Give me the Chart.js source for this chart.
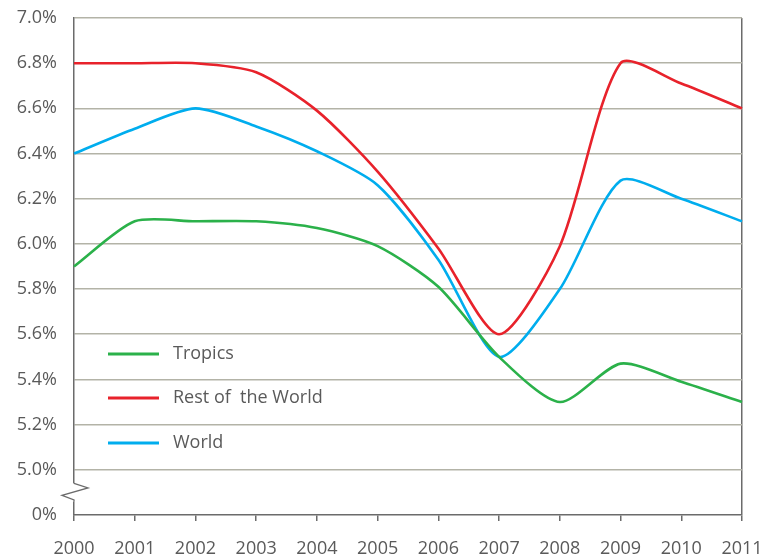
<!DOCTYPE html>
<html>
<head>
<meta charset="utf-8">
<script src="https://cdn.jsdelivr.net/npm/chart.js@4"></script>
<style>
    html, body { margin: 0; padding: 0; background: #fff; }
    #wrap { width: 763px; height: 554px; position: relative; }
</style>
</head>
<body>
<div id="wrap"><canvas id="rateChart"></canvas></div>
<script>
const years = ['2000', '2001', '2002', '2003', '2004', '2005', '2006', '2007', '2008', '2009', '2010', '2011'];
const tropics = [5.9, 6.1, 6.1, 6.1, 6.07, 5.99, 5.81, 5.5, 5.3, 5.47, 5.39, 5.3];
const restOfWorld = [6.8, 6.8, 6.8, 6.76, 6.59, 6.32, 5.98, 5.6, 5.99, 6.8, 6.71, 6.6];
const world = [6.4, 6.51, 6.6, 6.52, 6.41, 6.26, 5.93, 5.5, 5.8, 6.28, 6.2, 6.1];

// bottom tick (4.8) stands in for the broken axis and is labelled 0%
const yMin = 4.8;
const yMax = 7.0;

const axisColor = '#6b6b6b';
const gridColor = '#b3b3a7';
const textColor = '#5a5a5a';
const fontFamily = '"Open Sans", "Noto Sans", sans-serif';

// legend sits inside the plot, lower left
const legendPlugin = {
    id: 'innerLegend',
    afterDatasetsDraw(chart) {
        const { ctx } = chart;
        const rows = [354, 398, 443];
        ctx.save();
        chart.data.datasets.forEach((ds, i) => {
            const y = rows[i];
            ctx.strokeStyle = ds.borderColor;
            ctx.lineWidth = 3;
            ctx.beginPath();
            ctx.moveTo(108, y);
            ctx.lineTo(159, y);
            ctx.stroke();
            ctx.fillStyle = textColor;
            ctx.font = '18px ' + fontFamily;
            ctx.textBaseline = 'middle';
            ctx.textAlign = 'left';
            ctx.fillText(ds.label, 173, y);
        });
        ctx.restore();
    }
};

// zigzag break on the value axis between 0% and 5.0%
const axisBreakPlugin = {
    id: 'axisBreak',
    afterDraw(chart) {
        const { ctx } = chart;
        const yScale = chart.scales.y;
        const x = chart.chartArea.left;
        const mid = (yScale.getPixelForValue(5.0) + yScale.getPixelForValue(4.8)) / 2;
        ctx.save();
        ctx.fillStyle = '#fff';
        ctx.fillRect(x - 2, mid - 9, 4, 18);
        ctx.strokeStyle = axisColor;
        ctx.lineWidth = 1.3;
        ctx.beginPath();
        ctx.moveTo(x, mid - 9);
        ctx.lineTo(x + 14, mid - 4.5);
        ctx.lineTo(x - 12, mid + 3);
        ctx.lineTo(x, mid + 7.5);
        ctx.lineTo(x, mid + 9);
        ctx.stroke();
        ctx.restore();
    }
};

const lineStyle = {
    borderWidth: 2.6,
    pointRadius: 0,
    tension: 0.25,
    fill: false
};

new Chart(document.getElementById('rateChart'), {
    type: 'line',
    data: {
        labels: years,
        datasets: [
            { label: 'Tropics', data: tropics, borderColor: '#2bb14a', ...lineStyle },
            { label: 'Rest of  the World', data: restOfWorld, borderColor: '#e8222b', ...lineStyle },
            { label: 'World', data: world, borderColor: '#00adee', ...lineStyle }
        ]
    },
    options: {
        responsive: true,
        maintainAspectRatio: false,
        animation: false,
        layout: { autoPadding: false, padding: { top: 18, right: 21, left: 0, bottom: 0 } },
        plugins: {
            legend: { display: false },
            tooltip: { enabled: false }
        },
        scales: {
            x: {
                offset: false,
                afterFit: (s) => { s.height = 39; s.paddingLeft = 0; s.paddingRight = 0; },
                grid: {
                    color: (c) => c.index === years.length - 1 ? axisColor : 'rgba(0,0,0,0)',
                    lineWidth: 1.5,
                    tickColor: axisColor,
                    tickLength: 6,
                    drawOnChartArea: true
                },
                border: { color: axisColor, width: 1.5 },
                ticks: {
                    color: textColor,
                    font: { family: fontFamily, size: 18 },
                    padding: 17,
                    maxRotation: 0,
                    autoSkip: false
                }
            },
            y: {
                min: yMin,
                max: yMax,
                afterFit: (s) => { s.width = 74; s.paddingTop = 0; s.paddingBottom = 0; },
                afterBuildTicks: (s) => {
                    s.ticks = [];
                    for (let i = 0; i <= 11; i++) s.ticks.push({ value: Math.round((yMin + i * 0.2) * 10) / 10 });
                },
                grid: {
                    color: (c) => c.tick && c.tick.value <= yMin ? 'rgba(0,0,0,0)' : gridColor,
                    lineWidth: 1.6,
                    drawTicks: false
                },
                border: { color: axisColor, width: 1.5 },
                ticks: {
                    color: textColor,
                    font: { family: fontFamily, size: 18 },
                    padding: 17,
                    callback: (v) => v <= yMin ? '0%' : v.toFixed(1) + '%'
                }
            }
        }
    },
    plugins: [legendPlugin, axisBreakPlugin]
});
</script>
</body>
</html>
